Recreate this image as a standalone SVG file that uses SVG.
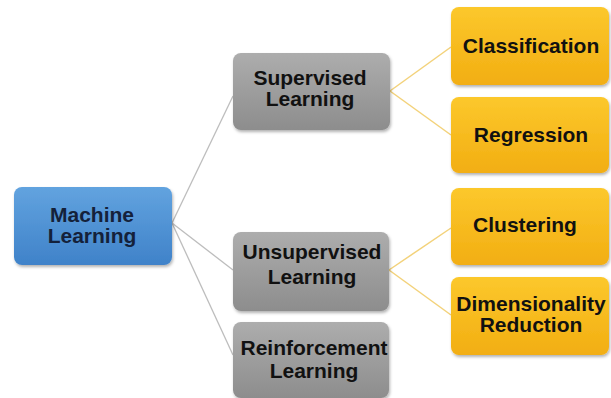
<svg xmlns="http://www.w3.org/2000/svg" width="611" height="398" viewBox="0 0 611 398">
<defs>
<linearGradient id="gBlue" x1="0" y1="0" x2="0" y2="1"><stop offset="0" stop-color="#62a3df"/><stop offset="1" stop-color="#3f82c9"/></linearGradient>
<linearGradient id="gGray" x1="0" y1="0" x2="0" y2="1"><stop offset="0" stop-color="#adadad"/><stop offset="1" stop-color="#8d8d8d"/></linearGradient>
<linearGradient id="gYel" x1="0" y1="0" x2="0" y2="1"><stop offset="0" stop-color="#fcc82c"/><stop offset="1" stop-color="#f2ae12"/></linearGradient>
<filter id="sh" x="-10%" y="-10%" width="125%" height="130%"><feDropShadow dx="1" dy="2" stdDeviation="1.5" flood-color="#000" flood-opacity="0.3"/></filter>
</defs>
<style>
.box{filter:url(#sh)}
.blue{fill:url(#gBlue)}
.gray{fill:url(#gGray)}
.yel{fill:url(#gYel)}
text{font-family:"Liberation Sans",Arial,sans-serif;font-weight:bold;font-size:21px;text-anchor:middle;fill:#111111}
.nav{fill:#14213a}
.cg{stroke:#bdbdbd;stroke-width:1.3;fill:none}
.cy{stroke:#f3d27a;stroke-width:1.5;fill:none}
</style>
<rect width="611" height="398" fill="#ffffff"/>
<g id="connectors">
<line class="cg" x1="172" y1="223" x2="233" y2="96"/>
<line class="cg" x1="172" y1="223" x2="233" y2="270"/>
<line class="cg" x1="172" y1="223" x2="233" y2="355"/>
<line class="cy" x1="390" y1="91" x2="451" y2="47"/>
<line class="cy" x1="390" y1="91" x2="451" y2="135"/>
<line class="cy" x1="389" y1="270" x2="451" y2="228"/>
<line class="cy" x1="389" y1="270" x2="451" y2="315"/>
</g>
<g id="machine-learning">
<rect class="box blue" x="14" y="187" width="158" height="78" rx="8"/>
<text class="nav" x="92" y="222">Machine</text>
<text class="nav" x="92" y="243">Learning</text>
</g>
<g id="supervised">
<rect class="box gray" x="233" y="53" width="157" height="77" rx="8"/>
<text x="310" y="85">Supervised</text>
<text x="310" y="106">Learning</text>
</g>
<g id="unsupervised">
<rect class="box gray" x="233" y="232" width="156" height="79" rx="8"/>
<text x="312" y="259">Unsupervised</text>
<text x="312" y="284">Learning</text>
</g>
<g id="reinforcement">
<rect class="box gray" x="233" y="322" width="156" height="76" rx="8"/>
<text x="314" y="355">Reinforcement</text>
<text x="314" y="378">Learning</text>
</g>
<g id="classification">
<rect class="box yel" x="451" y="7" width="158" height="78" rx="8"/>
<text x="531" y="53">Classification</text>
</g>
<g id="regression">
<rect class="box yel" x="451" y="97" width="158" height="76" rx="8"/>
<text x="531" y="142">Regression</text>
</g>
<g id="clustering">
<rect class="box yel" x="451" y="188" width="158" height="77" rx="8"/>
<text x="525" y="232">Clustering</text>
</g>
<g id="dimensionality-reduction">
<rect class="box yel" x="451" y="277" width="158" height="78" rx="8"/>
<text x="531" y="311">Dimensionality</text>
<text x="531" y="332">Reduction</text>
</g>
</svg>
